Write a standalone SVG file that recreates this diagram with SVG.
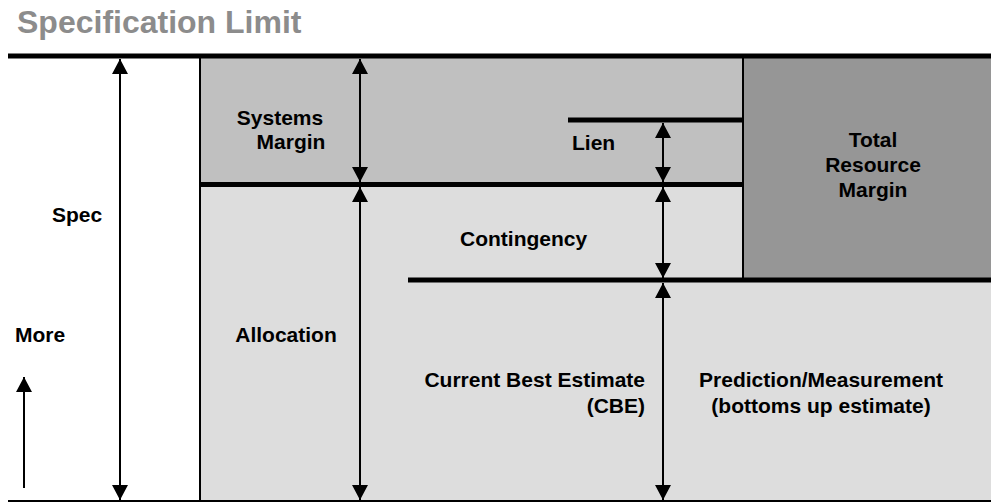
<svg xmlns="http://www.w3.org/2000/svg" width="991" height="503" viewBox="0 0 991 503">
  <style>
    .lbl { font-family: "Liberation Sans", Arial, sans-serif; font-weight: bold; font-size: 21px; fill: #000; }
    .title { font-family: "Liberation Sans", Arial, sans-serif; font-weight: bold; font-size: 32px; fill: #8c8c8c; }
    .thick { stroke: #000; stroke-width: 5; fill: none; }
    .thin { stroke: #000; stroke-width: 2; fill: none; }
    .arrow { stroke: #000; stroke-width: 2; fill: none; marker-start: url(#head); marker-end: url(#head); }
    .arrow-up { stroke: #000; stroke-width: 2; fill: none; marker-end: url(#head); }
  </style>
  <defs>
    <marker id="head" viewBox="0 0 15 16" refX="15" refY="8" markerWidth="15" markerHeight="16" markerUnits="userSpaceOnUse" orient="auto-start-reverse">
      <path d="M0,0 L15,8 L0,16 Z" fill="#000"/>
    </marker>
  </defs>

  <rect width="991" height="503" fill="#fff"/>

  <text class="title" x="17" y="33">Specification Limit</text>

  <!-- allocation band (light grey) -->
  <g id="allocation">
    <rect x="200" y="184" width="791" height="317" fill="#dddddd"/>
    <text class="lbl" x="286" y="342" text-anchor="middle">Allocation</text>
  </g>

  <!-- systems margin band -->
  <g id="systems-margin">
    <rect x="200" y="56" width="543" height="128" fill="#c0c0c0"/>
    <text class="lbl" x="280" y="125" text-anchor="middle">Systems</text>
    <text class="lbl" x="291" y="149" text-anchor="middle">Margin</text>
  </g>

  <!-- total resource margin block -->
  <g id="total-resource-margin">
    <rect x="743" y="56" width="248" height="224" fill="#969696"/>
    <text class="lbl" x="873" y="147" text-anchor="middle">Total</text>
    <text class="lbl" x="873" y="172" text-anchor="middle">Resource</text>
    <text class="lbl" x="873" y="197" text-anchor="middle">Margin</text>
  </g>

  <g id="spec">
    <text class="lbl" x="52" y="222">Spec</text>
  </g>
  <g id="more">
    <text class="lbl" x="15" y="342">More</text>
  </g>
  <g id="lien">
    <text class="lbl" x="572" y="150">Lien</text>
  </g>
  <g id="contingency">
    <text class="lbl" x="460" y="246">Contingency</text>
  </g>
  <g id="cbe">
    <text class="lbl" x="645" y="387" text-anchor="end">Current Best Estimate</text>
    <text class="lbl" x="645" y="413" text-anchor="end">(CBE)</text>
  </g>
  <g id="prediction">
    <text class="lbl" x="821" y="387" text-anchor="middle">Prediction/Measurement</text>
    <text class="lbl" x="821" y="413" text-anchor="middle">(bottoms up estimate)</text>
  </g>

  <!-- level lines and borders -->
  <g id="levels">
    <line class="thin" x1="200" y1="56" x2="200" y2="501"/>
    <line class="thin" x1="743" y1="56" x2="743" y2="280"/>
    <line class="thick" x1="8" y1="56" x2="991" y2="56"/>
    <line class="thick" x1="200" y1="184.5" x2="743" y2="184.5"/>
    <line class="thick" x1="568" y1="120" x2="743" y2="120"/>
    <line class="thick" x1="408" y1="280" x2="991" y2="280"/>
    <line class="thin" x1="8" y1="501" x2="991" y2="501"/>
  </g>

  <!-- dimension arrows -->
  <g id="connectors">
    <line class="arrow" x1="120" y1="59" x2="120" y2="500"/>
    <line class="arrow" x1="360" y1="59" x2="360" y2="182"/>
    <line class="arrow" x1="360" y1="187" x2="360" y2="500"/>
    <line class="arrow" x1="663" y1="123" x2="663" y2="182"/>
    <line class="arrow" x1="663" y1="187" x2="663" y2="278"/>
    <line class="arrow" x1="663" y1="283" x2="663" y2="500"/>
    <line class="arrow-up" x1="24" y1="488" x2="24" y2="377"/>
  </g>
</svg>
